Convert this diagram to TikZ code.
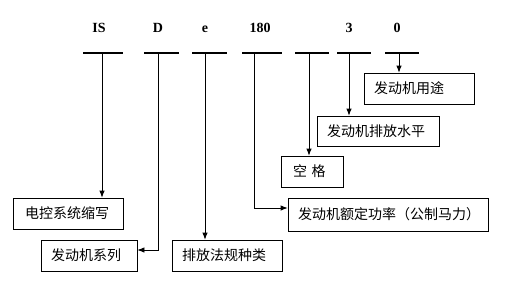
\documentclass[tikz,border=0pt]{standalone}
\usepackage{fontspec}
\setmainfont{Liberation Serif}
\newfontfamily\cjk{Noto Sans CJK SC}
\usetikzlibrary{arrows.meta}
\begin{document}
\begin{tikzpicture}[x=1pt,y=-1pt,
  codetext/.style={font=\bfseries\fontsize{14}{14}\selectfont, inner sep=0pt, anchor=base},
  barline/.style={fill=black, inner sep=0pt, minimum height=2.4pt},
  box/.style={draw, line width=0.8pt, inner ysep=0pt, inner xsep=10pt, align=left,
    font=\cjk\fontsize{14}{14}\selectfont},
  conn/.style={line width=0.8pt, -{Latex[length=7pt,width=5.5pt]}}]
\useasboundingbox (0,0) rectangle (530,287);
% code letters
\node[codetext] (tIS) at (99,32) {IS};
\node[codetext] (tD) at (158,32) {D};
\node[codetext] (te) at (205,32) {e};
\node[codetext] (t180) at (260,32) {180};
\node[codetext] (t3) at (349,32) {3};
\node[codetext] (t0) at (397,32) {0};
% bars
\node[barline, minimum width=40pt] (bar1) at (103,53) {};
\node[barline, minimum width=35pt] (bar2) at (161.5,53) {};
\node[barline, minimum width=35pt] (bar3) at (209.5,53) {};
\node[barline, minimum width=40pt] (bar4) at (262,53) {};
\node[barline, minimum width=34pt] (bar5) at (312,53) {};
\node[barline, minimum width=34pt] (bar6) at (354,53) {};
\node[barline, minimum width=34pt] (bar7) at (402,53) {};
% boxes
\node[box, minimum width=110pt, minimum height=31pt, text width=90pt] (yongtu) at (419,88.5) {发动机用途};
\node[box, minimum width=122pt, minimum height=30pt, text width=102pt] (level) at (378,131) {发动机排放水平};
\node[box, minimum width=62pt, minimum height=31pt, text width=42pt, inner xsep=10pt] (kongge) at (312,171.5) {\hspace{2pt}空 格};
\node[box, minimum width=200pt, minimum height=33pt, text width=180pt] (gonglv) at (388,214.5) {发动机额定功率（公制马力）};
\node[box, minimum width=110pt, minimum height=31pt, text width=90pt] (diankong) at (68,213.5) {\hspace{2pt}电控系统缩写};
\node[box, minimum width=96pt, minimum height=31pt, text width=76pt] (xilie) at (89,255.5) {发动机系列};
\node[box, minimum width=110pt, minimum height=31pt, text width=90pt] (fagui) at (227,255.5) {排放法规种类};
% connector starts
\coordinate (s1) at (102,53);
\coordinate (s2) at (158,53);
\coordinate (s3) at (205,53);
\coordinate (s4) at (254,53);
\coordinate (s5) at (309,53);
\coordinate (s6) at (349,53);
\coordinate (s7) at (399,53);
\coordinate (k2) at (158,250);
\coordinate (k4) at (254,208);
% connectors
\draw[conn] (s1) -- (diankong.north -| s1);
\draw[conn] (s2) -- (k2) -- (xilie.east |- k2);
\draw[conn] (s3) -- (fagui.north -| s3);
\draw[conn] (s4) -- (k4) -- (gonglv.west |- k4);
\draw[conn] (s5) -- (kongge.north -| s5);
\draw[conn] (s6) -- (level.north -| s6);
\draw[conn] (s7) -- (yongtu.north -| s7);
\end{tikzpicture}
\end{document}
